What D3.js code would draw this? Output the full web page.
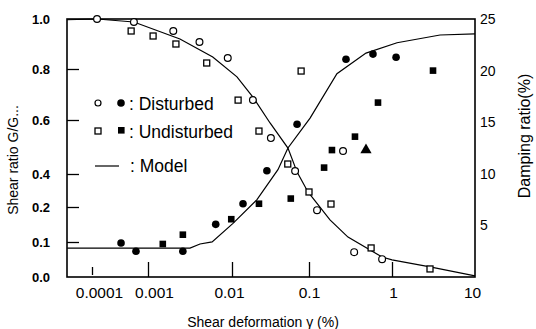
<!DOCTYPE html>
<html>
<head>
<meta charset="utf-8">
<script src="https://cdn.jsdelivr.net/npm/d3@7"></script>
<style>
  body { margin: 0; background: #fff; }
  text { fill: #000; }
</style>
</head>
<body>
<div id="entry"></div>
<script>
// strain (%) vs ratio / damping
var xTickVals = [0.0001, 0.001, 0.01, 0.1, 1, 10];
var xTickLabels = ['0.0001', '0.001', '0.01', '0.1', '1', '10'];
var gTickVals = [0, 0.1, 0.2, 0.4, 0.6, 0.8, 1.0];
var dTickVals = [5, 10, 15, 20, 25];

// open circles : disturbed G/Gmax
var distG = [[1.23e-4, 1.0], [5.6e-4, 0.988], [2.0e-3, 0.952], [4.1e-3, 0.908], [8.9e-3, 0.844],
  [0.0187, 0.678], [0.032, 0.533], [0.066, 0.411], [0.125, 0.191], [0.257, 0.485], [0.35, 0.071], [0.76, 0.051]];
// open squares : undisturbed G/Gmax
var undistG = [[5.0e-4, 0.952], [1.15e-3, 0.932], [2.15e-3, 0.9], [5.0e-3, 0.824], [0.012, 0.678],
  [0.0224, 0.559], [0.053, 0.437], [0.079, 0.792], [0.1, 0.291], [0.184, 0.218], [0.56, 0.083], [2.87, 0.023]];
// filled circles : disturbed damping (%)
var distD = [[3.3e-4, 3.3], [6.1e-4, 2.5], [2.6e-3, 2.5], [6.4e-3, 5.1], [0.0139, 7.1], [0.0284, 10.3],
  [0.070, 14.8], [0.279, 21.1], [0.59, 21.6], [1.12, 21.3]];
// filled squares : undisturbed damping (%)
var undistD = [[1.5e-3, 3.2], [2.6e-3, 4.1], [9.8e-3, 5.6], [0.0224, 7.1], [0.058, 7.6], [0.152, 10.6],
  [0.189, 12.3], [0.358, 13.6], [0.678, 16.9], [3.12, 20.0]];
// lone triangle
var triD = [[0.486, 12.3]];

// model curves
var modelG = [[3.6e-5, 0.997], [1.23e-4, 1.0], [5.6e-4, 0.988], [2.4e-3, 0.92], [5.9e-3, 0.848], [0.0116, 0.769],
  [0.0187, 0.69], [0.0312, 0.589], [0.0533, 0.496], [0.070, 0.407], [0.097, 0.291], [0.179, 0.163],
  [0.295, 0.114], [0.76, 0.057], [1.0, 0.049], [2.87, 0.029], [10, 0.003]];
var modelD = [[3.6e-5, 2.8], [3.16e-3, 2.8], [4.16e-3, 3.2], [5.8e-3, 3.4], [0.0103, 5.2], [0.0211, 7.5],
  [0.0395, 10.4], [0.0533, 12.5], [0.103, 15.4], [0.217, 19.7], [0.486, 21.7], [1.15, 22.7], [3.79, 23.45], [10, 23.55]];

var margin = {top: 19, right: 61, bottom: 52, left: 67},
width = 536 - margin.left - margin.right,
height = 329 - margin.top - margin.bottom;

// the printed log axis is not evenly spaced, so map decades piecewise
var xDec = d3.scaleLinear().domain([-4, -3, -2, -1, 0, 1]).range([25, 81, 165, 242, 325, width]);
var x = function(v) { return xDec(Math.log10(v)); };

var yG = d3.scaleLinear().domain(gTickVals).range([height, 223, 188, 155, 101, 50, 0]);
var yD = d3.scaleLinear().domain([0, 25]).range([height, 0]);

var svg = d3.select("#entry").append("svg")
.attr("width", 536)
.attr("height", 329)
.style("font-family", "'Liberation Sans', Arial, sans-serif");

var g = svg.append("g")
.attr("transform", "translate(" + margin.left + "," + margin.top + ")");

var xAxis = d3.axisBottom(xDec)
  .tickValues(xTickVals.map(Math.log10))
  .tickFormat(function(d, i) { return xTickLabels[i]; })
  .tickSizeInner(-15).tickSizeOuter(0).tickPadding(10);

var xg = g.append('g')
  .attr('transform', 'translate(0,' + height + ')')
  .call(xAxis);
// labels in the print sit a little off their ticks
var labelNudge = [7, 6, -3, 0, 1, -3];
xg.selectAll('text').style('font-size', '15.5px').attr('font-family', null)
  .attr('dx', function(d, i) { return labelNudge[i]; });
xg.selectAll('.tick line').filter(function(d) { return d === -4; })
  .attr('y1', -2).attr('y2', -10);
xg.selectAll('.tick line').filter(function(d) { return d === 1; }).remove();

var yAxisL = d3.axisLeft(yG).tickValues(gTickVals)
  .tickFormat(d3.format('.1f'))
  .tickSizeInner(-12).tickSizeOuter(0).tickPadding(17);
var yl = g.append('g').call(yAxisL);
yl.selectAll('text').attr('font-family', null)
  .style('font-family', "'Liberation Sans Narrow', 'Liberation Sans', Arial, sans-serif")
  .style('font-size', '13px').style('font-weight', 'bold');
yl.selectAll('.tick line').filter(function(d) { return d === 0 || d === 1; }).remove();

var yAxisR = d3.axisRight(yD).tickValues(dTickVals)
  .tickSize(0).tickPadding(5);
var yr = g.append('g').attr('transform', 'translate(' + width + ',0)').call(yAxisR);
yr.selectAll('text').attr('font-family', null).style('font-size', '14px');

g.selectAll('.domain').remove();
g.selectAll('.tick line').attr('stroke', '#000').attr('stroke-width', 1.3);

// frame
g.append('rect')
  .attr('width', width).attr('height', height)
  .attr('fill', 'none').attr('stroke', '#000').attr('stroke-width', 1.6);

// model lines
var lineG = d3.line().x(function(d) { return x(d[0]); }).y(function(d) { return yG(d[1]); });
var lineD = d3.line().x(function(d) { return x(d[0]); }).y(function(d) { return yD(d[1]); });

g.append('path').datum(modelG).attr('d', lineG)
  .attr('fill', 'none').attr('stroke', '#000').attr('stroke-width', 1.2);
g.append('path').datum(modelD).attr('d', lineD)
  .attr('fill', 'none').attr('stroke', '#000').attr('stroke-width', 1.2);

// markers
g.selectAll('.oc').data(distG).enter().append('circle')
  .attr('cx', function(d) { return x(d[0]); }).attr('cy', function(d) { return yG(d[1]); })
  .attr('r', 3.4).attr('fill', '#fff').attr('stroke', '#000').attr('stroke-width', 1.2);

g.selectAll('.os').data(undistG).enter().append('rect')
  .attr('x', function(d) { return x(d[0]) - 3; }).attr('y', function(d) { return yG(d[1]) - 3; })
  .attr('width', 6).attr('height', 6)
  .attr('fill', '#fff').attr('stroke', '#000').attr('stroke-width', 1.3);

g.selectAll('.fc').data(distD).enter().append('circle')
  .attr('cx', function(d) { return x(d[0]); }).attr('cy', function(d) { return yD(d[1]); })
  .attr('r', 3.8).attr('fill', '#000');

g.selectAll('.fs').data(undistD).enter().append('rect')
  .attr('x', function(d) { return x(d[0]) - 3.3; }).attr('y', function(d) { return yD(d[1]) - 3.3; })
  .attr('width', 6.6).attr('height', 6.6).attr('fill', '#000');

g.selectAll('.tr').data(triD).enter().append('path')
  .attr('transform', function(d) { return 'translate(' + x(d[0]) + ',' + yD(d[1]) + ')'; })
  .attr('d', d3.symbol().type(d3.symbolTriangle).size(55))
  .attr('fill', '#000');

// legend
var leg = svg.append('g').style('font-size', '17.5px');
leg.append('circle').attr('cx', 98).attr('cy', 103).attr('r', 3).attr('fill', '#fff').attr('stroke', '#000').attr('stroke-width', 1.2);
leg.append('circle').attr('cx', 121).attr('cy', 103).attr('r', 3.8).attr('fill', '#000');
leg.append('text').attr('x', 129).attr('y', 110).text(': Disturbed');

leg.append('rect').attr('x', 95).attr('y', 128).attr('width', 6).attr('height', 6).attr('fill', '#fff').attr('stroke', '#000').attr('stroke-width', 1.3);
leg.append('rect').attr('x', 118).attr('y', 127).attr('width', 6.6).attr('height', 6.6).attr('fill', '#000');
leg.append('text').attr('x', 129).attr('y', 138).text(': Undisturbed');

leg.append('line').attr('x1', 95).attr('x2', 119).attr('y1', 166).attr('y2', 166).attr('stroke', '#000').attr('stroke-width', 1.2);
leg.append('text').attr('x', 130).attr('y', 172).text(': Model');

// axis titles
svg.append('text')
  .attr('transform', 'translate(18,160) rotate(-90)')
  .attr('text-anchor', 'middle').style('font-size', '14px')
  .text('Shear ratio G/G...');

svg.append('text')
  .attr('transform', 'translate(530,136) rotate(-90)')
  .attr('text-anchor', 'middle').style('font-size', '16px')
  .text('Damping ratio(%)');

svg.append('text')
  .attr('x', 263).attr('y', 327)
  .attr('text-anchor', 'middle').style('font-size', '14px')
  .text('Shear deformation γ (%)');
</script>
</body>
</html>
